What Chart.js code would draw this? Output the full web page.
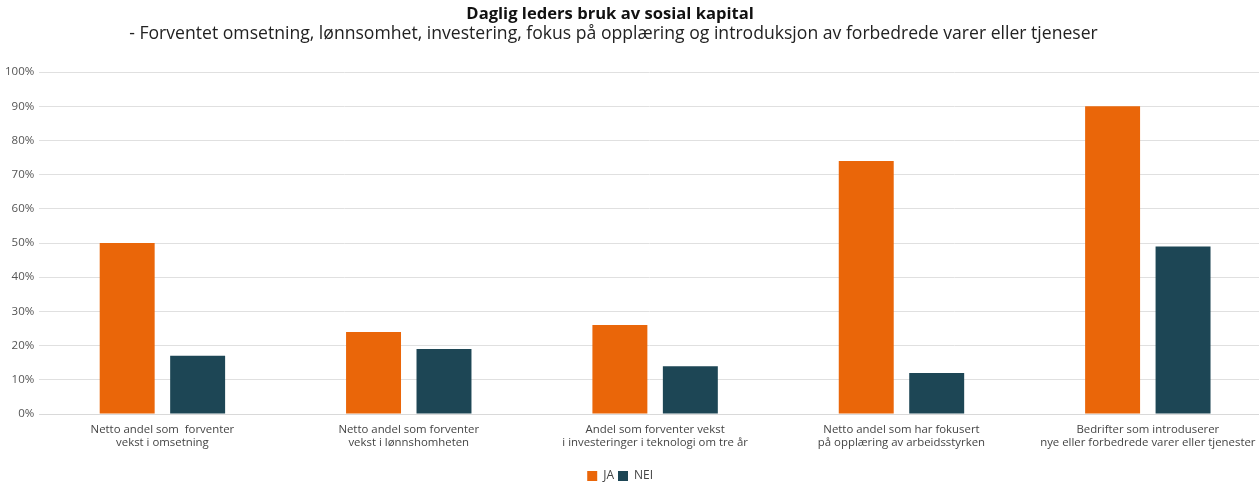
<!DOCTYPE html>
<html>
<head>
<meta charset="utf-8">
<script src="https://cdn.jsdelivr.net/npm/chart.js@4"></script>
<style>
html,body{margin:0;padding:0;background:#fff;}
#wrap{width:1259px;height:486px;position:relative;}
</style>
</head>
<body>
<div id="wrap"><canvas id="c" width="1259" height="486"></canvas></div>
<script>
const categories = [
  ["Netto andel som  forventer", "vekst i omsetning"],
  ["Netto andel som forventer", "vekst i lønnshomheten"],
  ["Andel som forventer vekst", "i investeringer i teknologi om tre år"],
  ["Netto andel som har fokusert", "på opplæring av arbeidsstyrken"],
  ["Bedrifter som introduserer", "nye eller forbedrede varer eller tjenester"]
];
const jaValues = [50, 24, 26, 74, 90];
const neiValues = [17, 19, 14, 12, 49];
const seriesNames = ["JA", "NEI"];
const titleText = "Daglig leders bruk av sosial kapital";
const subtitleText = "- Forventet omsetning, lønnsomhet, investering, fokus på opplæring og introduksjon av forbedrede varer eller tjeneser";

Chart.defaults.font.family = "'Open Sans', Lato, sans-serif";
Chart.defaults.color = "#444";

const pad = n => '\u00A0'.repeat(n);

// The original plot area runs slightly past the right edge of the picture.
const extendRight = {
  id: 'extendRight',
  afterLayout(chart) {
    const extra = 12;
    const xs = chart.scales.x;
    xs.right += extra;
    xs.width += extra;
    chart.chartArea.right += extra;
    chart.chartArea.width += extra;
    xs.configure();
  }
};

new Chart(document.getElementById('c'), {
  type: 'bar',
  data: {
    labels: categories,
    datasets: [
      {label: seriesNames[0], data: jaValues, backgroundColor: '#EA6609', barPercentage: 0.78, categoryPercentage: 0.572},
      {label: seriesNames[1], data: neiValues, backgroundColor: '#1D4655', barPercentage: 0.78, categoryPercentage: 0.572}
    ]
  },
  plugins: [extendRight],
  options: {
    responsive: false,
    animation: false,
    layout: {padding: {left: 0, right: 0, top: 4, bottom: -6}},
    plugins: {
      title: {display: true, text: titleText + pad(9), color: '#111', font: {size: 16.6, weight: 'bold'}, padding: {top: 0, bottom: 0}},
      subtitle: {display: true, text: subtitleText + pad(7), color: '#222', font: {size: 17.6, weight: 'normal'}, padding: {top: 0, bottom: 27}},
      legend: {
        position: 'bottom',
        labels: {
          boxWidth: 10, boxHeight: 10, font: {size: 12}, color: '#444', padding: 4,
          generateLabels: chart => {
            const items = Chart.defaults.plugins.legend.labels.generateLabels(chart);
            items[items.length - 1].text += pad(6);
            return items;
          }
        }
      },
      tooltip: {enabled: false}
    },
    scales: {
      x: {
        grid: {display: false},
        border: {display: true, color: '#d9d9d9'},
        ticks: {font: {size: 11.4, lineHeight: 1.15}, color: '#444', maxRotation: 0, autoSkip: false, padding: 1},
        afterFit: s => { s.height = 52; }
      },
      y: {
        min: 0, max: 100,
        grid: {color: '#e0e0e0', drawTicks: false},
        border: {display: false},
        ticks: {stepSize: 10, padding: 5, font: {size: 11.5}, color: '#555', callback: v => v + '%'}
      }
    }
  }
});
</script>
</body>
</html>
